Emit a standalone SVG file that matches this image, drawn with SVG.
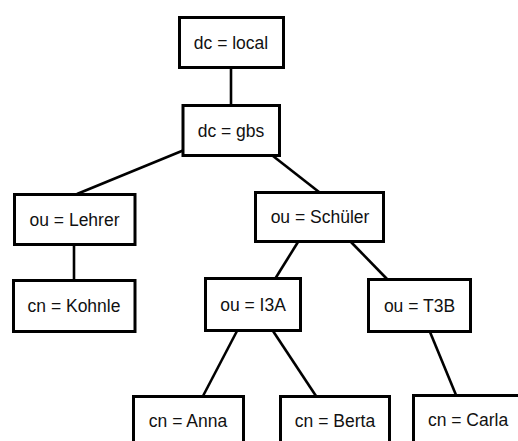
<svg xmlns="http://www.w3.org/2000/svg" width="518" height="441" viewBox="0 0 518 441">
<style>
.box{fill:#fff;stroke:#000;stroke-width:3}
.lbl{font-family:"Liberation Sans",Arial,sans-serif;font-size:17.5px;fill:#111;text-anchor:middle}
.edge{stroke:#000;stroke-width:2.6;fill:none}
</style>
<rect width="518" height="441" fill="#fff"/>
<g id="connectors">
<line class="edge" x1="231" y1="68" x2="231" y2="106"/>
<line class="edge" x1="183" y1="150.5" x2="77" y2="194"/>
<line class="edge" x1="273" y1="156" x2="319" y2="192"/>
<line class="edge" x1="74" y1="245" x2="74" y2="280"/>
<line class="edge" x1="298" y1="242" x2="275" y2="279"/>
<line class="edge" x1="351" y1="242" x2="387" y2="279"/>
<line class="edge" x1="237" y1="331" x2="203" y2="396"/>
<line class="edge" x1="273" y1="331" x2="316" y2="396"/>
<line class="edge" x1="430" y1="332" x2="456" y2="395"/>
</g>
<g id="dc-local"><rect class="box" x="179.5" y="17.5" width="104" height="50"/><text class="lbl" x="231" y="48.5">dc = local</text></g>
<g id="dc-gbs"><rect class="box" x="183" y="105.5" width="96.5" height="50"/><text class="lbl" x="231" y="137">dc = gbs</text></g>
<g id="ou-lehrer"><rect class="box" x="14.5" y="194.5" width="120.5" height="50"/><text class="lbl" x="74.5" y="226">ou = Lehrer</text></g>
<g id="cn-kohnle"><rect class="box" x="13.5" y="280.5" width="121.5" height="51"/><text class="lbl" x="74" y="312">cn = Kohnle</text></g>
<g id="ou-schueler"><rect class="box" x="255.5" y="192.5" width="128" height="49"/><text class="lbl" x="320" y="223">ou = Schüler</text></g>
<g id="ou-i3a"><rect class="box" x="205.5" y="278.5" width="95" height="52"/><text class="lbl" x="253" y="311">ou = I3A</text></g>
<g id="ou-t3b"><rect class="box" x="368.5" y="279.5" width="102" height="52"/><text class="lbl" x="419.5" y="312">ou = T3B</text></g>
<g id="cn-anna"><rect class="box" x="133.5" y="396.5" width="110" height="60"/><text class="lbl" x="188" y="427">cn = Anna</text></g>
<g id="cn-berta"><rect class="box" x="280.5" y="396.5" width="109" height="60"/><text class="lbl" x="335" y="427">cn = Berta</text></g>
<g id="cn-carla"><rect class="box" x="413.5" y="395.5" width="110" height="60"/><text class="lbl" x="468" y="426">cn = Carla</text></g>
</svg>
